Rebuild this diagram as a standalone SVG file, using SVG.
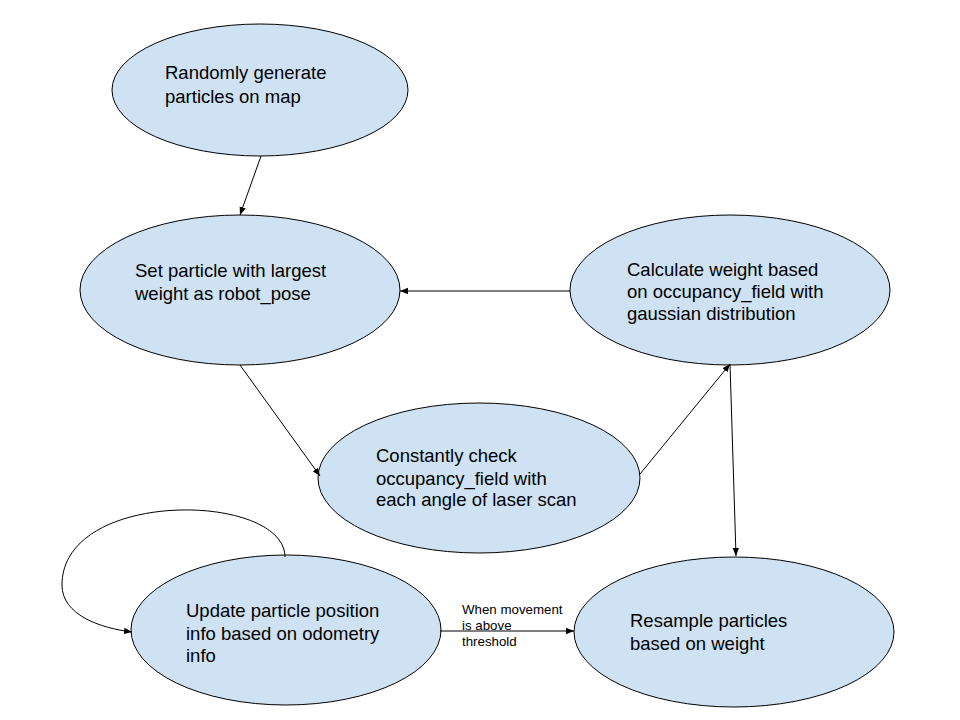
<svg xmlns="http://www.w3.org/2000/svg" width="960" height="720" viewBox="0 0 960 720">
<style>
.node ellipse{fill:#cfe2f3;stroke:#000;stroke-width:1}
.node text{font-family:"Liberation Sans",Arial,sans-serif;font-size:18.5px;fill:#000}
.edge{stroke:#000;stroke-width:1;fill:none;marker-end:url(#ah)}
.lbl{font-family:"Liberation Sans",Arial,sans-serif;font-size:13.3px;fill:#000}
</style>
<defs>
<marker id="ah" viewBox="0 0 10 10" refX="10" refY="5" markerWidth="8" markerHeight="8" markerUnits="userSpaceOnUse" orient="auto">
<path d="M0,1 L10,5 L0,9 Z" fill="#000"/>
</marker>
</defs>
<rect width="960" height="720" fill="#fff"/>
<g id="n1" class="node"><ellipse cx="260" cy="90" rx="148" ry="66"/><text x="165" y="79">Randomly generate</text><text x="165" y="103">particles on map</text></g>
<g id="n2" class="node"><ellipse cx="240" cy="290" rx="160" ry="75"/><text x="135" y="277">Set particle with largest</text><text x="135" y="300">weight as robot_pose</text></g>
<g id="n3" class="node"><ellipse cx="730" cy="290" rx="160" ry="75"/><text x="627" y="276">Calculate weight based</text><text x="627" y="298">on occupancy_field with</text><text x="627" y="320">gaussian distribution</text></g>
<g id="n4" class="node"><ellipse cx="479" cy="478" rx="161" ry="75"/><text x="376" y="462">Constantly check</text><text x="376" y="485">occupancy_field with</text><text x="376" y="506">each angle of laser scan</text></g>
<g id="n5" class="node"><ellipse cx="286" cy="630" rx="155" ry="75"/><text x="186" y="617">Update particle position</text><text x="186" y="640">info based on odometry</text><text x="186" y="662">info</text></g>
<g id="n6" class="node"><ellipse cx="734" cy="632" rx="160" ry="75"/><text x="630" y="627">Resample particles</text><text x="630" y="650">based on weight</text></g>
<g id="edges">
<path class="edge" d="M261,156 L240,215"/>
<path class="edge" d="M570,291 L400,291"/>
<path class="edge" d="M240,365 L320,476"/>
<path class="edge" d="M640,474 L730,364"/>
<path class="edge" d="M730,364 L736,556"/>
<path class="edge" d="M440,631 L574,631"/>
<path class="edge" d="M285,557 C285,492 62,488 62,585 C62,615 100,628 132,632"/>
<text class="lbl" x="462" y="614">When movement</text>
<text class="lbl" x="462" y="630">is above</text>
<text class="lbl" x="462" y="646">threshold</text>
</g>
</svg>
